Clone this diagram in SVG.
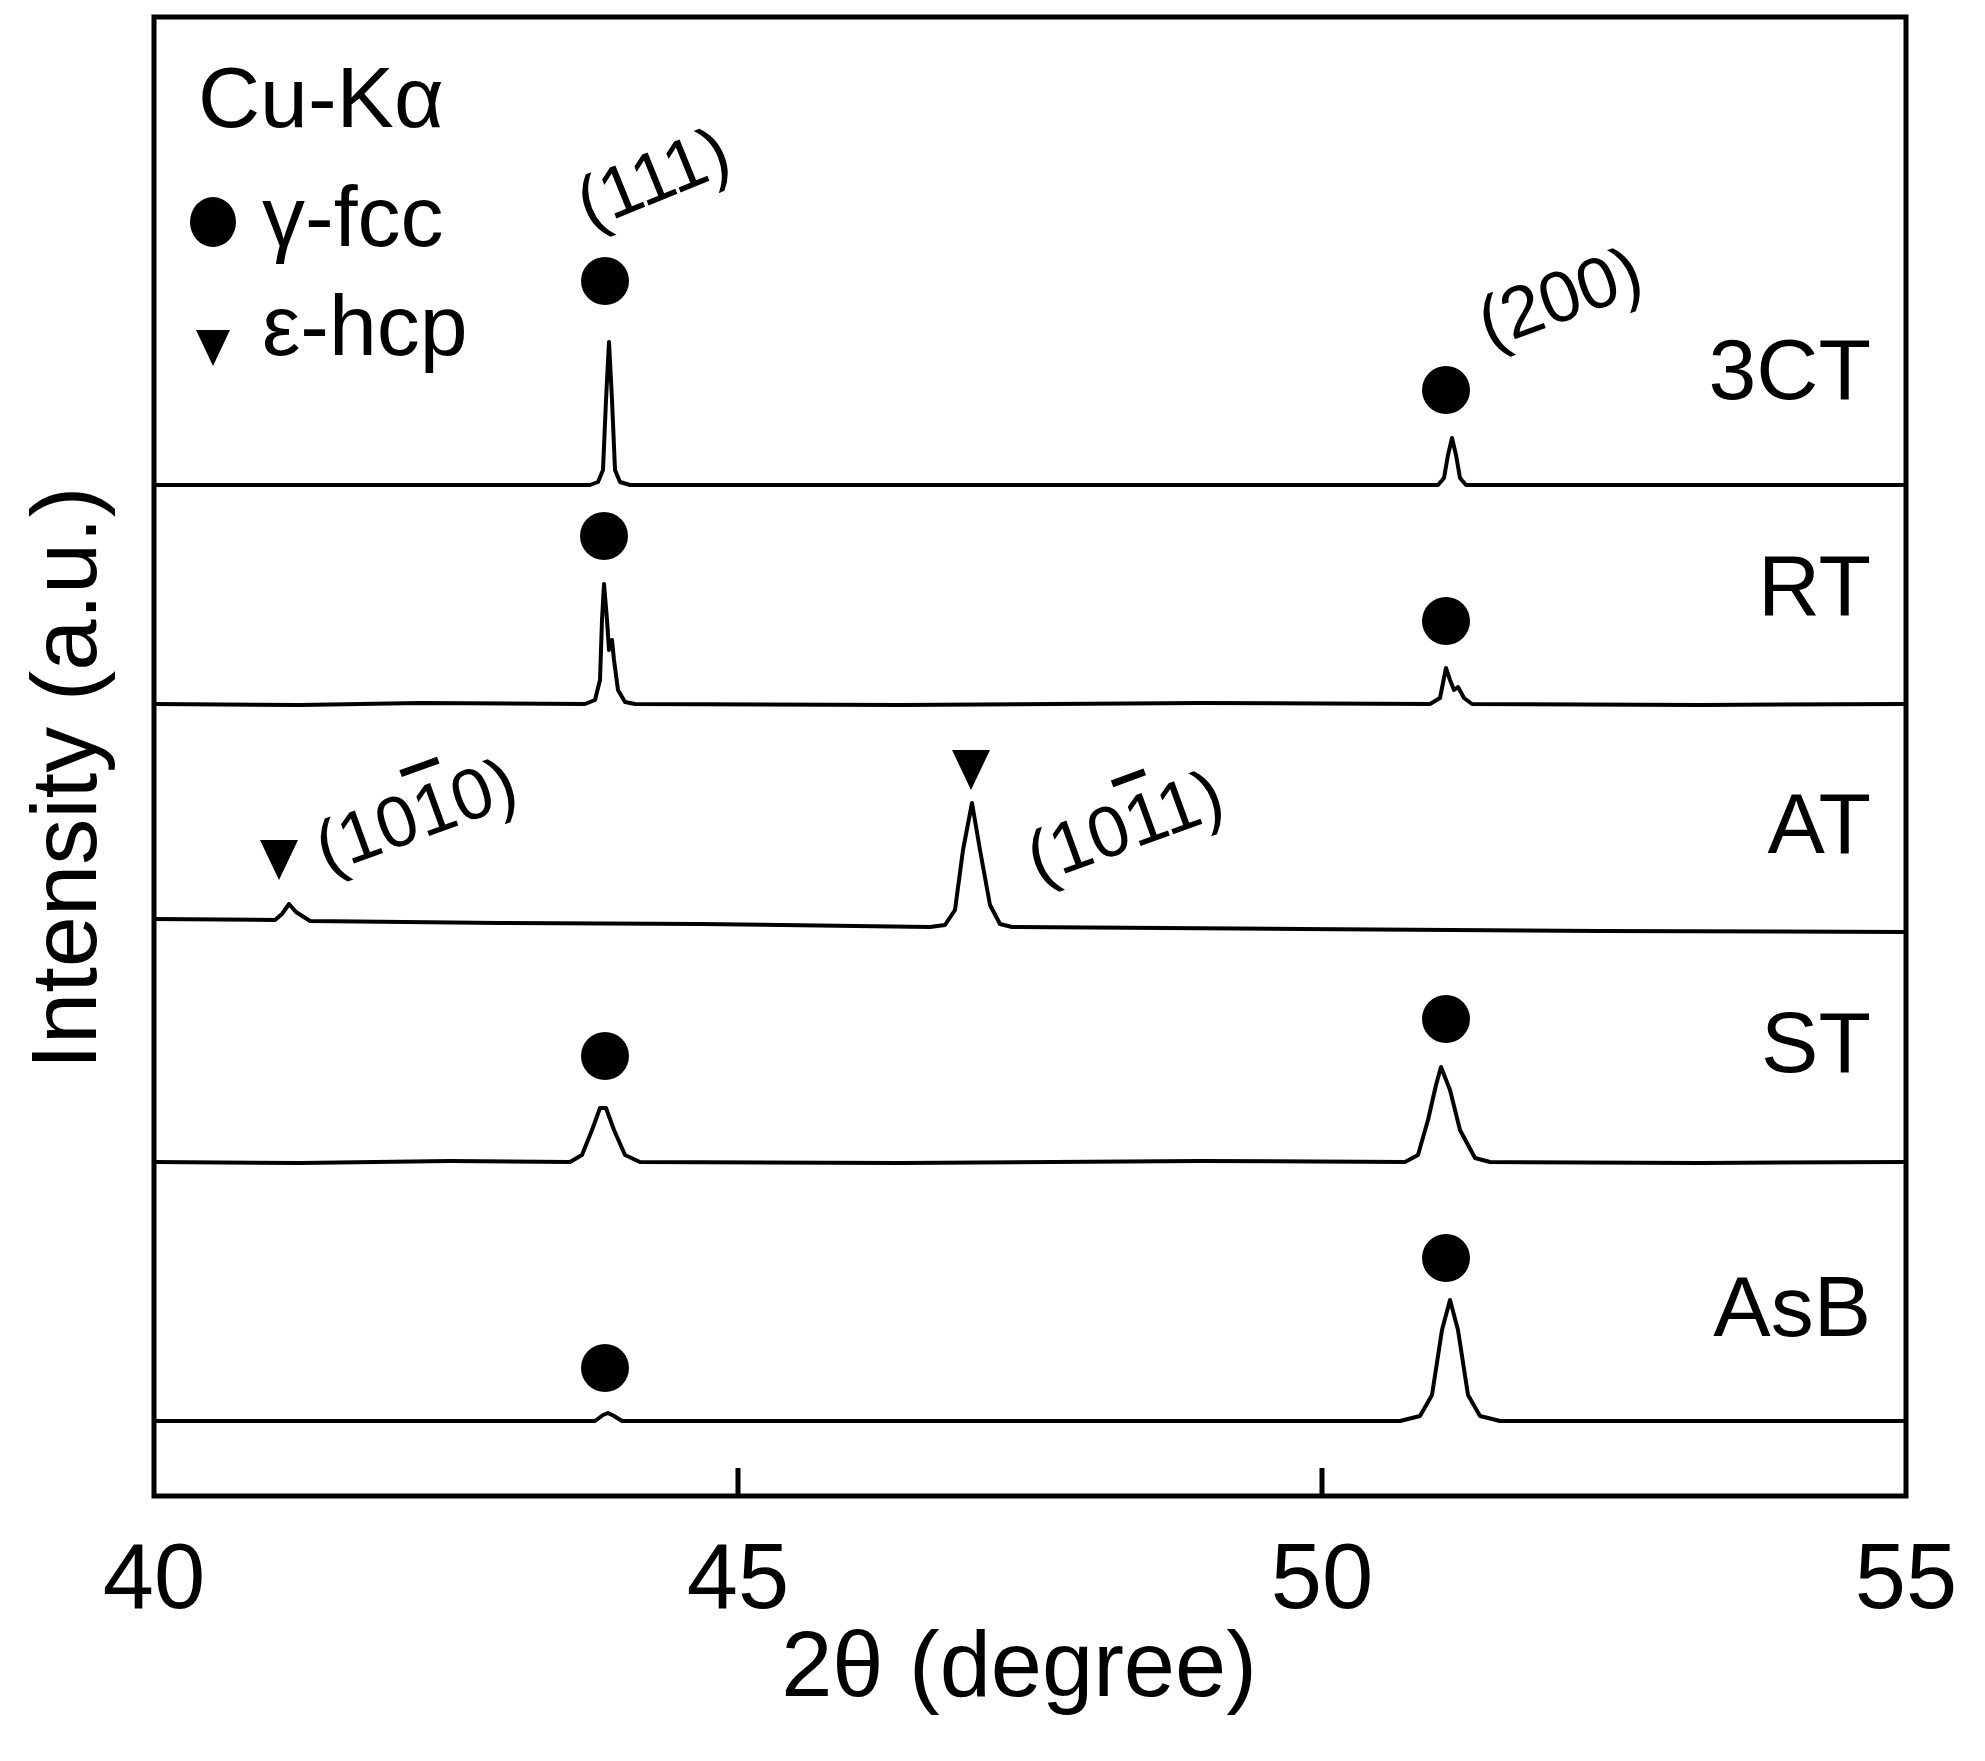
<svg xmlns="http://www.w3.org/2000/svg" width="1985" height="1761" viewBox="0 0 1985 1761">
<style>
text{font-family:"Liberation Sans",Arial,sans-serif;fill:#000}
.lab{font-size:86px}
.tick{font-size:92px}
.hkl{font-size:72px}
.sp{fill:none;stroke:#000;stroke-width:4;stroke-linejoin:round}
.ov{text-decoration:overline}
</style>
<rect width="1985" height="1761" fill="#fff"/>
<g id="frame">
<rect x="154" y="17" width="1752" height="1479" fill="none" stroke="#000" stroke-width="5"/>
<path d="M738 1496V1468M1322 1496V1468" stroke="#000" stroke-width="5"/>
<text class="tick" x="154" y="1608" text-anchor="middle">40</text>
<text class="tick" x="738" y="1608" text-anchor="middle">45</text>
<text class="tick" x="1322" y="1608" text-anchor="middle">50</text>
<text class="tick" x="1906" y="1608" text-anchor="middle">55</text>
<text class="tick" x="1019" y="1696" text-anchor="middle">2θ (degree)</text>
<text class="tick" transform="translate(96,778) rotate(-90)" text-anchor="middle">Intensity (a.u.)</text>
</g>
<g id="legend">
<text class="lab" x="198" y="127">Cu-Kα</text>
<ellipse cx="213" cy="222" rx="23" ry="25"/>
<text class="lab" x="262" y="246">γ-fcc</text>
<polygon points="196,330 230,330 213,366"/>
<text class="lab" x="262" y="355">ε-hcp</text>
</g>
<g id="spectra">
<path id="s3CT" class="sp" d="M154 485H590L598 482L603 470L606 400L609 342L612 400L615 470L620 482L630 485H1438L1444 478L1448 455L1452 438L1456 455L1460 478L1466 485H1906"/>
<path id="sRT" class="sp" d="M154 704L300 705L420 703L585 704L595 700L600 680L602 620L604 584L607 620L609 650L612 640L614 660L618 690L625 702L635 704L900 705L1200 703L1430 704L1440 698L1446 668L1450 680L1454 690L1458 687L1464 698L1472 704L1700 705L1906 704"/>
<path id="sAT" class="sp" d="M154 919L275 920L282 914L289 904L296 912L310 921L500 923L700 924L930 927L945 925L955 910L963 850L972 803L980 850L990 905L1000 924L1012 927L1300 929L1600 931L1906 932"/>
<path id="sST" class="sp" d="M154 1162L300 1163L450 1161L570 1162L582 1155L592 1130L600 1108L606 1108L614 1130L625 1155L640 1162L900 1163L1200 1161L1405 1162L1418 1155L1428 1120L1436 1085L1441 1067L1450 1090L1460 1130L1475 1158L1490 1162L1700 1163L1906 1162"/>
<path id="sAsB" class="sp" d="M154 1421L595 1421L603 1415L608 1413L614 1416L622 1421L1400 1421L1420 1416L1432 1395L1442 1330L1450 1300L1458 1330L1468 1395L1480 1416L1500 1421L1906 1421"/>
</g>
<g id="markers">
<ellipse cx="605" cy="281" rx="24" ry="24"/>
<ellipse cx="1446" cy="390" rx="24" ry="24"/>
<ellipse cx="604" cy="536" rx="24" ry="24"/>
<ellipse cx="1446" cy="621" rx="24" ry="24"/>
<ellipse cx="605" cy="1056" rx="24" ry="24"/>
<ellipse cx="1446" cy="1019" rx="24" ry="24"/>
<ellipse cx="605" cy="1368" rx="24" ry="24"/>
<ellipse cx="1446" cy="1258" rx="24" ry="24"/>
<polygon points="260,840 298,840 279,880"/>
<polygon points="952,750 990,750 971,790"/>
</g>
<g id="labels">
<text class="hkl" transform="translate(662,200) rotate(-22)" text-anchor="middle">(111)</text>
<text class="hkl" transform="translate(1568,320) rotate(-20)" text-anchor="middle">(200)</text>
<text class="hkl" transform="translate(424,838) rotate(-20)" text-anchor="middle">(10<tspan class="ov">1</tspan>0)</text>
<text class="hkl" transform="translate(1133,849) rotate(-20)" text-anchor="middle">(10<tspan class="ov">1</tspan>1)</text>
<text class="lab" x="1871" y="399" text-anchor="end">3CT</text>
<text class="lab" x="1871" y="615" text-anchor="end">RT</text>
<text class="lab" x="1871" y="853" text-anchor="end">AT</text>
<text class="lab" x="1871" y="1072" text-anchor="end">ST</text>
<text class="lab" x="1871" y="1336" text-anchor="end">AsB</text>
</g>
</svg>
